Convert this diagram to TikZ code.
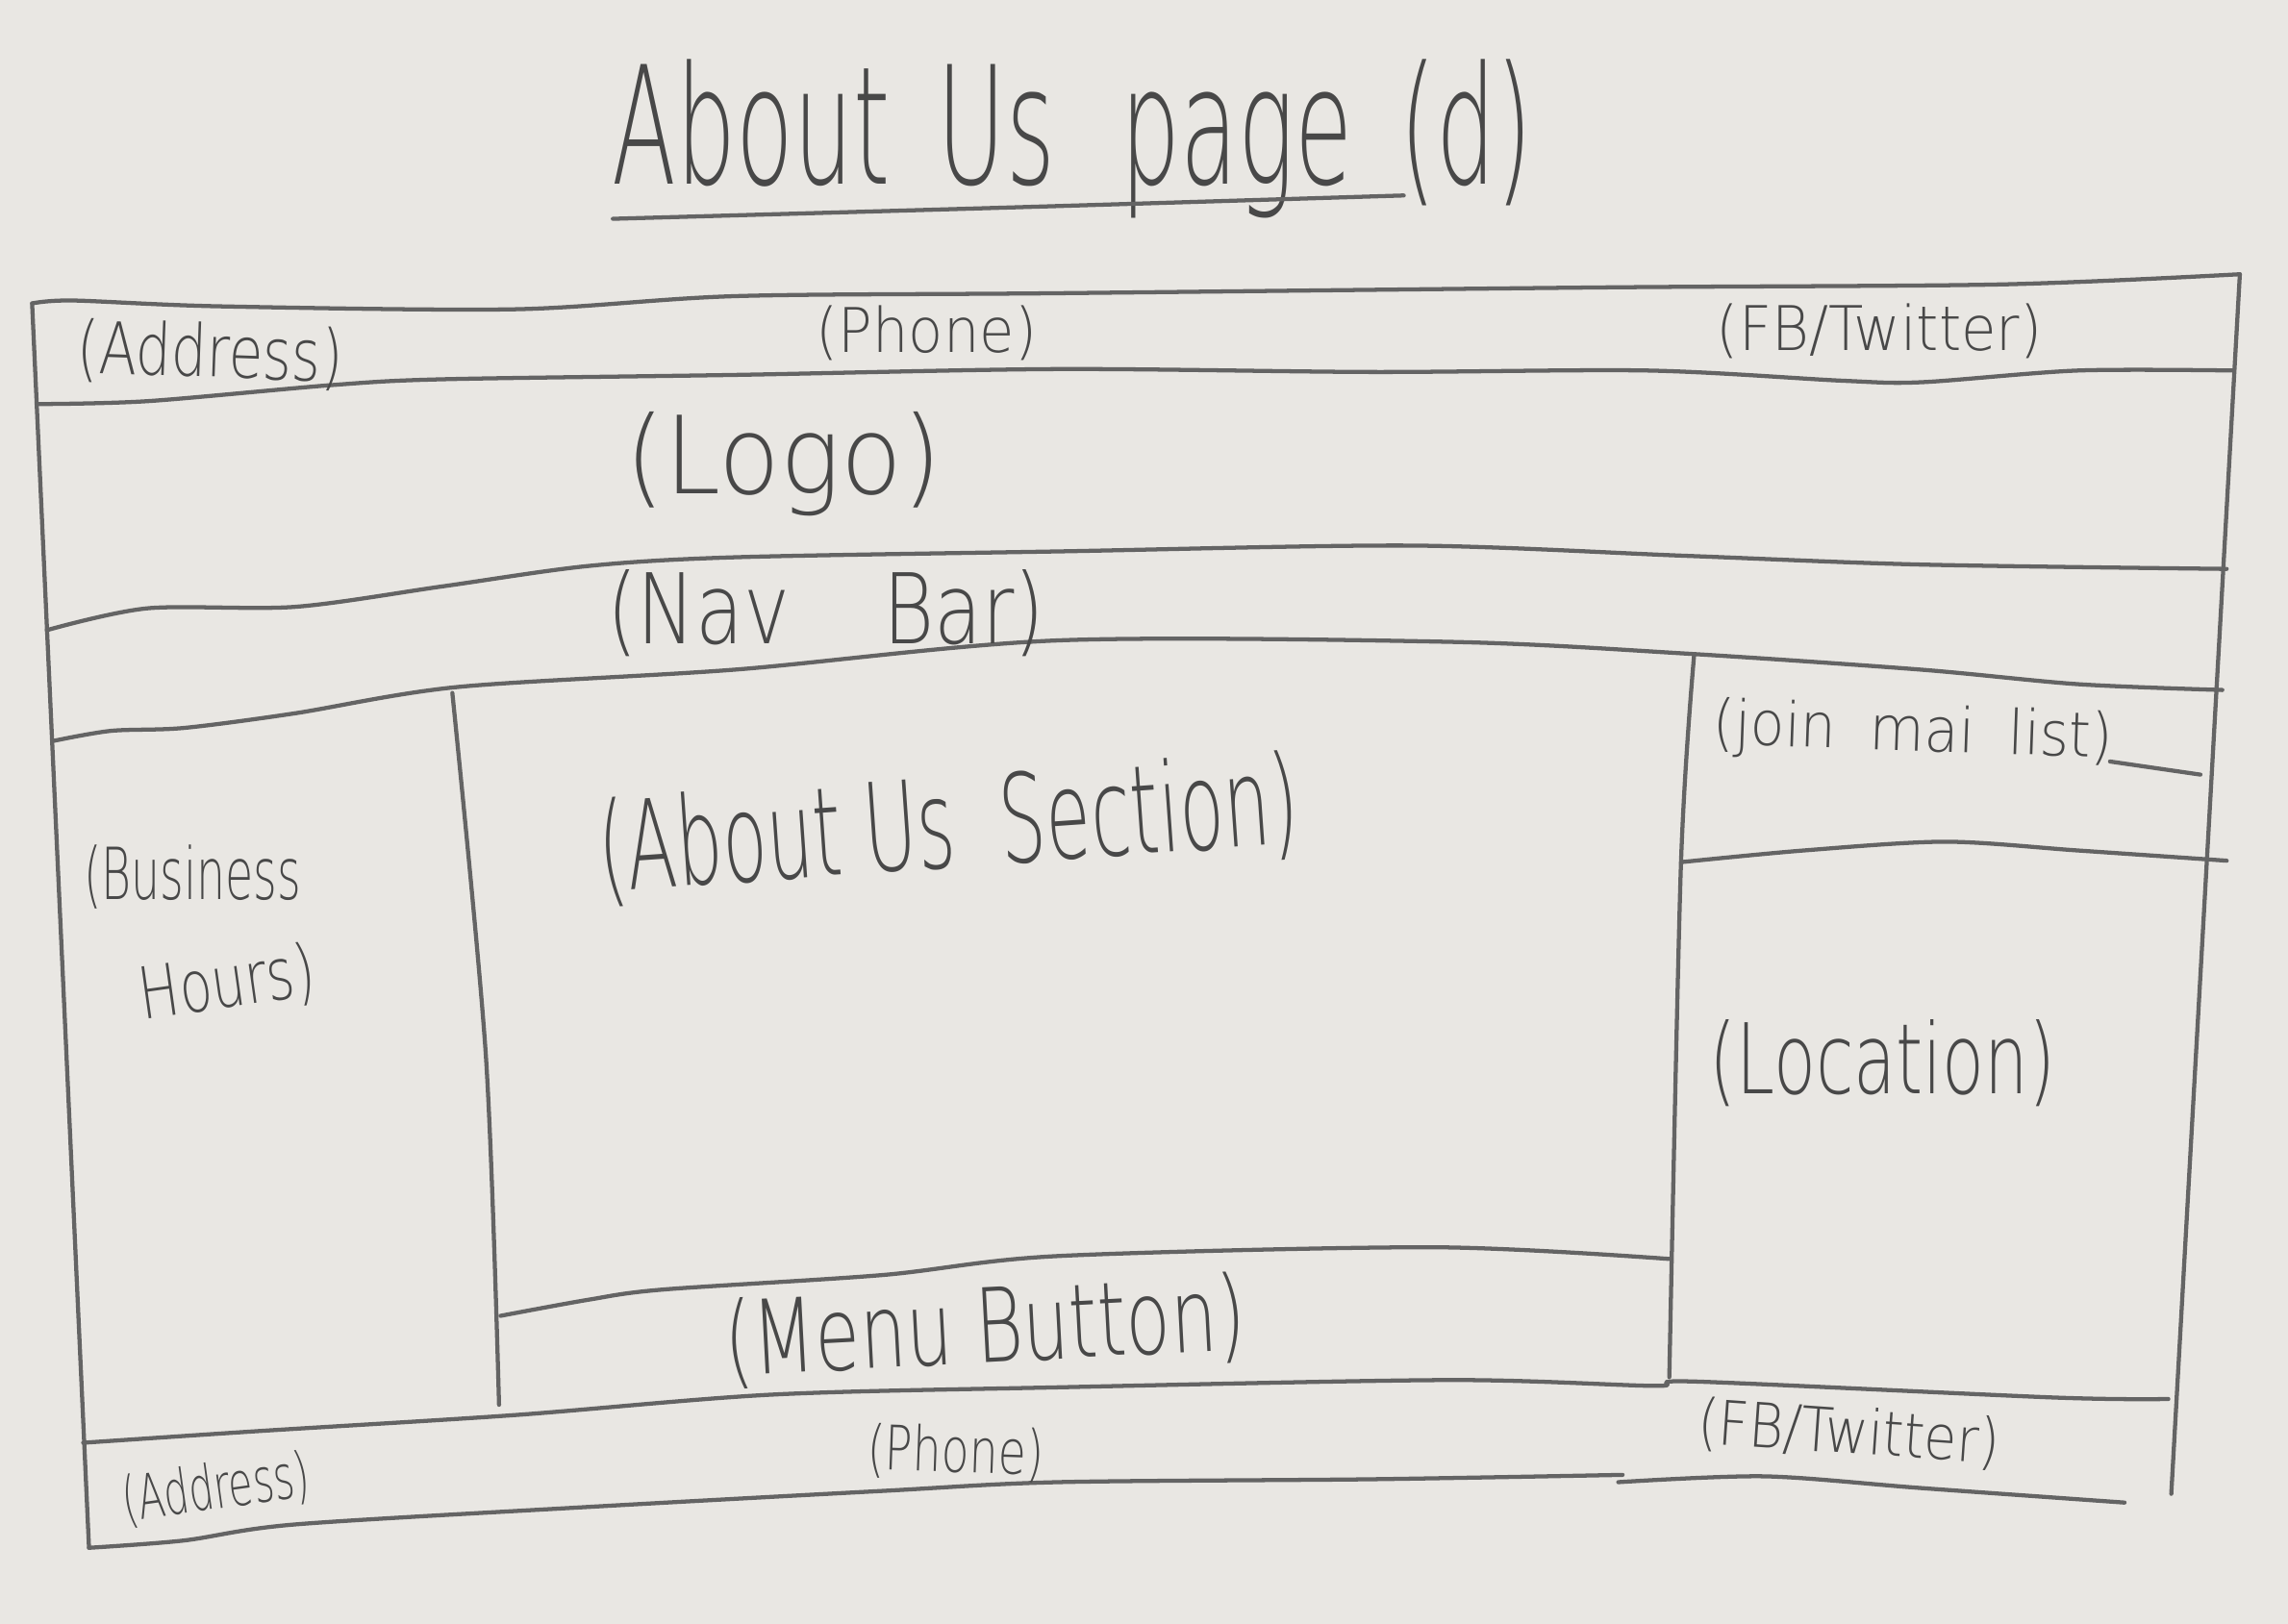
\documentclass[tikz,border=0pt]{standalone}
\usepackage{fontspec}
\usepackage{graphicx}
\newfontfamily\handfont{DejaVu Sans}[UprightFont={* ExtraLight}]
\definecolor{paper}{RGB}{233,231,227}
\definecolor{graphite}{RGB}{100,100,100}
\definecolor{lead}{RGB}{72,72,72}
% text squeezed to a given width (cm) at a given size (pt)
\newcommand{\hand}[3]{\resizebox{#1cm}{\height}{\fontsize{#2}{#2}\selectfont #3}}

\begin{document}
\begin{tikzpicture}[x=0.01cm,y=-0.01cm,
  pencil/.style={draw=graphite, line width=0.8pt, line cap=round, line join=round},
  lbl/.style={text=lead, inner sep=0pt, font=\handfont}]
\fill[paper] (0,0) rectangle (1568,1113);
\useasboundingbox (0,0) rectangle (1568,1113);

% title and its underline
\node[lbl] (title) at (735,95) {\hand{6.3}{32}{About\hspace{0.5em}Us\hspace{0.7em}page\hspace{0.5em}(d)}};
\draw[pencil] plot[smooth] coordinates {(420,150) (700,142) (962,134)};

% page frame
\draw[pencil] plot[smooth, tension=0.5] coordinates {(22,208) (50,206) (151,210) (353,212) (504,203) (725,201) (1101,197) (1370,195) (1535,188)};
\draw[pencil] (1535,188) -- (1488,1024);
\draw[pencil] (22,208) -- (61,1061);

% horizontal bands
\draw[pencil] plot[smooth, tension=0.5] coordinates {(25,277) (101,275) (227,264) (303,260) (504,257) (725,253) (940,255) (1129,254) (1263,261) (1317,262) (1424,254) (1531,254)};
\draw[pencil] plot[smooth, tension=0.5] coordinates {(32,432) (101,417) (202,416) (303,402) (403,388) (504,382) (725,378) (967,374) (1155,381) (1316,387) (1526,390)};
\draw[pencil] plot[smooth, tension=0.5] coordinates {(36,508) (76,501) (126,499) (202,489) (313,471) (504,459) (725,439) (994,440) (1155,448) (1316,459) (1424,469) (1523,473)};

% columns
\draw[pencil] plot[smooth] coordinates {(310,475) (333,724) (342,963)};
\draw[pencil] plot[smooth] coordinates {(1161,449) (1152,592) (1144,944)};

% right column dividers
\draw[pencil] plot[smooth, tension=0.5] coordinates {(1152,591) (1236,583) (1333,577) (1424,583) (1526,590)};
\draw[pencil] (1446,522) -- (1508,531);

% menu button divider
\draw[pencil] plot[smooth, tension=0.5] coordinates {(343,902) (403,891) (454,884) (605,874) (725,861) (983,855) (1144,863)};

% footer
\draw[pencil] plot[smooth, tension=0.5] coordinates {(57,989) (177,981) (353,970) (529,956) (725,951) (994,946) (1134,950) (1161,947) (1408,958) (1486,959)};
\draw[pencil] plot[smooth, tension=0.5] coordinates {(61,1061) (126,1056) (202,1045) (403,1033) (605,1022) (725,1016) (940,1014) (1112,1011)};
\draw[pencil] plot[smooth, tension=0.5] coordinates {(1109,1016) (1209,1012) (1316,1020) (1456,1030)};

% labels
\node[lbl, rotate=-2] (addrTop) at (144,243) {\hand{1.82}{14}{(Address)}};
\node[lbl] (phoneTop) at (635,228) {\hand{1.51}{12}{(Phone)}};
\node[lbl] (fbTop) at (1288,227) {\hand{2.23}{12}{(FB/Twitter)}};
\node[lbl] (logo) at (537,318) {\hand{2.16}{21}{(Logo)}};
\node[lbl] (nav) at (566,420) {\hand{3.00}{19}{(Nav\hspace{1.2em}Bar)}};
\node[lbl, rotate=4] (aboutSec) at (650,568) {\hand{4.80}{24}{(About Us\hspace{0.3em} Section)}};
\node[lbl] (business) at (132,601) {\hand{1.49}{14}{(Business}};
\node[lbl, rotate=8] (hours) at (156,675) {\hand{1.21}{14}{Hours)}};
\node[lbl, rotate=-2] (joinList) at (1311,503) {\hand{2.74}{12}{(join\hspace{0.6em}mai\hspace{0.6em}list)}};
\node[lbl] (location) at (1290,729) {\hand{2.37}{19}{(Location)}};
\node[lbl, rotate=3] (menuBtn) at (675,912) {\hand{3.57}{20}{(Menu Button)}};
\node[lbl, rotate=8] (addrBot) at (148,1021) {\hand{1.29}{12}{(Address)}};
\node[lbl, rotate=-2] (phoneBot) at (655,996) {\hand{1.21}{12}{(Phone)}};
\node[lbl, rotate=-4] (fbBot) at (1267,983) {\hand{2.07}{12}{(FB/Twitter)}};
\end{tikzpicture}
\end{document}
